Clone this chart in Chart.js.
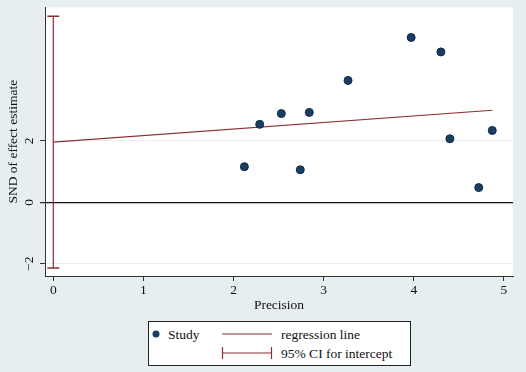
<!DOCTYPE html>
<html>
<head>
<meta charset="utf-8">
<script src="https://cdn.jsdelivr.net/npm/chart.js@4.4.1/dist/chart.umd.min.js"></script>
<style>
  body { margin: 0; background: #e7eef1; }
  #wrap { position: relative; width: 526px; height: 372px; }
  #legend { position: absolute; left: 148px; top: 321px; }
</style>
</head>
<body>
<div id="wrap">
  <canvas id="chart" width="526" height="372"></canvas>
  <svg id="legend" width="263" height="45" xmlns="http://www.w3.org/2000/svg"
       font-family="Liberation Serif, Times New Roman, serif" font-size="13.5" fill="#111">
    <rect x="0.5" y="0.5" width="262" height="44" fill="#fff" stroke="#222" stroke-width="1"/>
    <circle cx="8" cy="13" r="3.5" fill="#1a3d63"/>
    <text x="20" y="17.5">Study</text>
    <line x1="74" y1="13" x2="124" y2="13" stroke="#8b2f35" stroke-width="1.2"/>
    <text x="133" y="17.5">regression line</text>
    <line x1="74" y1="32" x2="124" y2="32" stroke="#8b2f35" stroke-width="1.2"/>
    <line x1="74.5" y1="26" x2="74.5" y2="38" stroke="#8b2f35" stroke-width="1.2"/>
    <line x1="123.5" y1="26" x2="123.5" y2="38" stroke="#8b2f35" stroke-width="1.2"/>
    <text x="133" y="36.5">95% CI for intercept</text>
  </svg>
</div>
<script>
// study points
const precision = [2.12, 2.29, 2.53, 2.74, 2.84, 3.27, 3.97, 4.30, 4.40, 4.72, 4.87];
const sndEstimate = [1.16, 2.54, 2.89, 1.06, 2.93, 3.97, 5.37, 4.90, 2.07, 0.48, 2.34];

// regression line end points
const regX = [0, 4.87];
const regY = [1.96, 3.00];

// 95% CI for intercept (drawn at precision 0)
const ciX = 0;
const ciLow = -2.14;
const ciHigh = 6.06;

const xTicks = [0, 1, 2, 3, 4, 5];
const yTicks = [-2, 0, 2];
const yTickLabels = ['\u22122', '0', '2'];

const FONT = 'Liberation Serif';
const navy = '#1a3d63';
const maroon = '#8b2f35';

const plotBackground = {
    id: 'plotBackground',
    beforeDraw(chart) {
        const { ctx, chartArea: a } = chart;
        ctx.save();
        ctx.fillStyle = '#ffffff';
        ctx.fillRect(a.left, a.top, a.right - a.left, a.bottom - a.top);
        ctx.restore();
    }
};

// Stata draws the y tick labels turned on their side
const rotatedYLabels = {
    id: 'rotatedYLabels',
    afterDraw(chart) {
        const { ctx } = chart;
        const y = chart.scales.y;
        ctx.save();
        ctx.font = '13.5px "' + FONT + '"';
        ctx.fillStyle = '#111';
        ctx.textAlign = 'center';
        ctx.textBaseline = 'middle';
        yTicks.forEach((v, i) => {
            ctx.save();
            ctx.translate(y.right - 16, y.getPixelForValue(v));
            ctx.rotate(-Math.PI / 2);
            ctx.fillText(yTickLabels[i], 0, 0);
            ctx.restore();
        });
        ctx.restore();
    }
};

const chart = new Chart(document.getElementById('chart'), {
    type: 'scatter',
    data: {
        datasets: [
            {
                label: 'Study',
                data: precision.map((p, i) => ({ x: p, y: sndEstimate[i] })),
                backgroundColor: navy,
                borderColor: '#0f2a47',
                borderWidth: 1,
                pointRadius: 4,
                order: 0
            },
            {
                label: 'regression line',
                type: 'line',
                data: regX.map((x, i) => ({ x: x, y: regY[i] })),
                borderColor: maroon,
                borderWidth: 1.2,
                pointRadius: 0,
                fill: false,
                order: 1
            },
            {
                label: '95% CI for intercept',
                type: 'line',
                data: [{ x: ciX, y: ciLow }, { x: ciX, y: ciHigh }],
                borderColor: maroon,
                borderWidth: 1.2,
                pointStyle: 'line',
                pointRadius: 6,
                pointBorderColor: maroon,
                pointBorderWidth: 1.4,
                fill: false,
                order: 2
            }
        ]
    },
    options: {
        responsive: false,
        animation: false,
        layout: {
            padding: { top: 4, right: 13, bottom: 58.6, left: 0 }
        },
        plugins: {
            legend: { display: false },
            tooltip: { enabled: false }
        },
        scales: {
            x: {
                type: 'linear',
                min: -0.092,
                max: 5.10,
                afterBuildTicks: (scale) => {
                    scale.ticks = xTicks.map(v => ({ value: v }));
                },
                afterFit: (scale) => {
                    scale.height = 37.4;
                },
                grid: {
                    drawOnChartArea: false,
                    drawTicks: true,
                    tickLength: 5,
                    tickColor: '#333'
                },
                border: { color: '#333', width: 1 },
                ticks: {
                    color: '#111',
                    padding: 1,
                    maxRotation: 0,
                    font: { family: FONT, size: 13.5 }
                },
                title: {
                    display: true,
                    text: 'Precision',
                    color: '#111',
                    padding: 0,
                    font: { family: FONT, size: 13.5 }
                }
            },
            y: {
                type: 'linear',
                min: -2.40,
                max: 6.35,
                afterBuildTicks: (scale) => {
                    scale.ticks = yTicks.map(v => ({ value: v }));
                },
                afterFit: (scale) => {
                    scale.width = 45;
                },
                grid: {
                    drawOnChartArea: true,
                    drawTicks: true,
                    tickLength: 5,
                    tickColor: '#333',
                    color: (ctx) => ctx.tick && ctx.tick.value === 0 ? '#111' : '#e9eff1',
                    lineWidth: (ctx) => ctx.tick && ctx.tick.value === 0 ? 1.3 : 1
                },
                border: { color: '#333', width: 1 },
                ticks: { display: false },
                title: {
                    display: true,
                    text: 'SND of effect estimate',
                    color: '#111',
                    padding: { top: 5.6, bottom: 0 },
                    font: { family: FONT, size: 13.5 }
                }
            }
        }
    },
    plugins: [plotBackground, rotatedYLabels]
});
</script>
</body>
</html>
